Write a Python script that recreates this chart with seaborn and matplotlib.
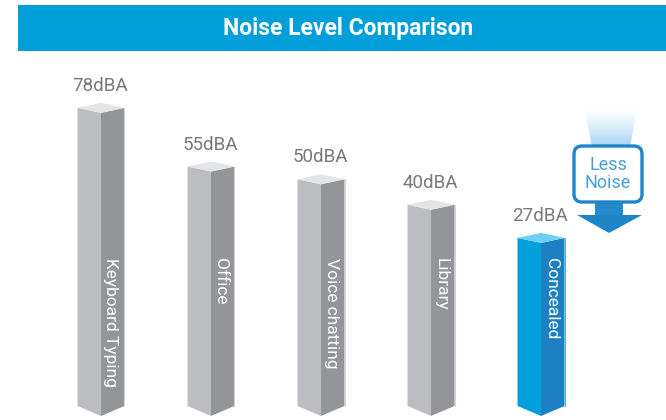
import numpy as np
import matplotlib
matplotlib.use("Agg")
import matplotlib.pyplot as plt
from matplotlib.patches import Polygon, Rectangle, FancyBboxPatch
import seaborn as sns

# ---- data -------------------------------------------------------------
categories = ["Keyboard Typing", "Office", "Voice chatting", "Library", "Concealed"]
levels_dba = [78, 55, 50, 40, 27]
value_labels = ["78dBA", "55dBA", "50dBA", "40dBA", "27dBA"]
highlight = [False, False, False, False, True]
title = "Noise Level Comparison"
badge_text = "Less\nNoise"

# ---- style ------------------------------------------------------------
sns.set_theme(style="white")
plt.rcParams["font.family"] = ["Roboto", "DejaVu Sans"]

W, H, DPI = 666, 420, 100
fig = plt.figure(figsize=(W / DPI, H / DPI), dpi=DPI)
fig.patch.set_facecolor("white")

# data axes: x = category index, y = noise level in dBA
ax = fig.add_axes([0, 0, 1, 1])
X0, X1 = -0.918, 5.136
Y0, Y1 = -44.4, 120.3
ax.set_xlim(X0, X1)
ax.set_ylim(Y0, Y1)
ax.axis("off")

ux = (X1 - X0) / W          # data units per pixel, x
uy = (Y1 - Y0) / H          # data units per pixel, y

half_w = 23.5 * ux           # half width of a prism
tip = 5 * uy                 # depth of the top diamond
base_side = -38.9            # floor of the prism sides
base_front = base_side - 10 * uy

palettes = {
    False: dict(left="#BCBDC0", right="#939598", top="#E4E5E7", edge="#D5D6D8"),
    True: dict(left="#00A0DC", right="#1C80C3", top="#6DCFF6", edge="#4FB3E4"),
}

for i, (cat, v, lab, hl) in enumerate(zip(categories, levels_dba, value_labels, highlight)):
    c = i
    pal = palettes[hl]
    left = [(c - half_w, base_side), (c - half_w, v), (c, v - tip), (c, base_front)]
    right = [(c, base_front), (c, v - tip), (c + half_w, v), (c + half_w, base_side)]
    top = [(c - half_w, v), (c, v + tip), (c + half_w, v), (c, v - tip)]
    ax.add_patch(Polygon(left, closed=True, facecolor=pal["left"], edgecolor="none"))
    ax.add_patch(Polygon(right, closed=True, facecolor=pal["right"], edgecolor="none"))
    ax.add_patch(Polygon(top, closed=True, facecolor=pal["top"], edgecolor="none"))
    ax.plot([c + half_w, c + half_w], [base_side, v], color=pal["edge"], lw=0.8)

    ax.text(c - 1 * ux, v + 17 * uy, lab, ha="center", va="baseline",
            fontsize=13.5, fontweight="normal", color="#77787B")
    ax.text(c + 10 * ux, 19.1, cat, rotation=-90, ha="center", va="top",
            fontsize=12.5, fontweight="normal", color="white")

# ---- decorations in pixel space --------------------------------------
deco = fig.add_axes([0, 0, 1, 1])
deco.set_xlim(0, W)
deco.set_ylim(H, 0)
deco.axis("off")
deco.patch.set_alpha(0)

# title banner
deco.add_patch(Rectangle((18, 5), W - 18, 46, facecolor="#009FDA", edgecolor="none"))
deco.text(348, 29, title, ha="center", va="center", color="white",
          fontsize=16.5, fontweight="bold")

# "Less Noise" badge: fading beam, framed label, downward arrow
beam_rgb = np.array([0.55, 0.79, 0.94])
n = 64
grad = np.zeros((n, 1, 4))
grad[:, 0, :3] = beam_rgb
grad[:, 0, 3] = np.linspace(0.0, 0.85, n) ** 1.3
beam = deco.imshow(grad, extent=(583, 640, 147, 108), origin="upper",
                   aspect="auto", interpolation="bilinear", zorder=1)
beam_clip = Polygon([(585, 110), (637, 110), (630, 147), (592, 147)], closed=True,
                    transform=deco.transData, facecolor="none", edgecolor="none")
deco.add_patch(beam_clip)
beam.set_clip_path(beam_clip)

deco.add_patch(FancyBboxPatch((574, 146), 68, 56,
                              boxstyle="round,pad=0,rounding_size=8",
                              facecolor="white", edgecolor="#1E86C6",
                              linewidth=2.4, zorder=3))
deco.text(608, 174, badge_text, ha="center", va="center", color="#4A9FD8",
          fontsize=13, fontweight="normal", linespacing=0.95, zorder=4)
deco.add_patch(Rectangle((595, 203), 28, 13, facecolor="#2689CB",
                         edgecolor="none", zorder=2))
deco.add_patch(Polygon([(577, 215), (642, 215), (609, 233)], closed=True,
                       facecolor="#1E86C6", edgecolor="none", zorder=2))

deco.set_xlim(0, W)
deco.set_ylim(H, 0)

fig.savefig("out.png", dpi=DPI, facecolor="white")
